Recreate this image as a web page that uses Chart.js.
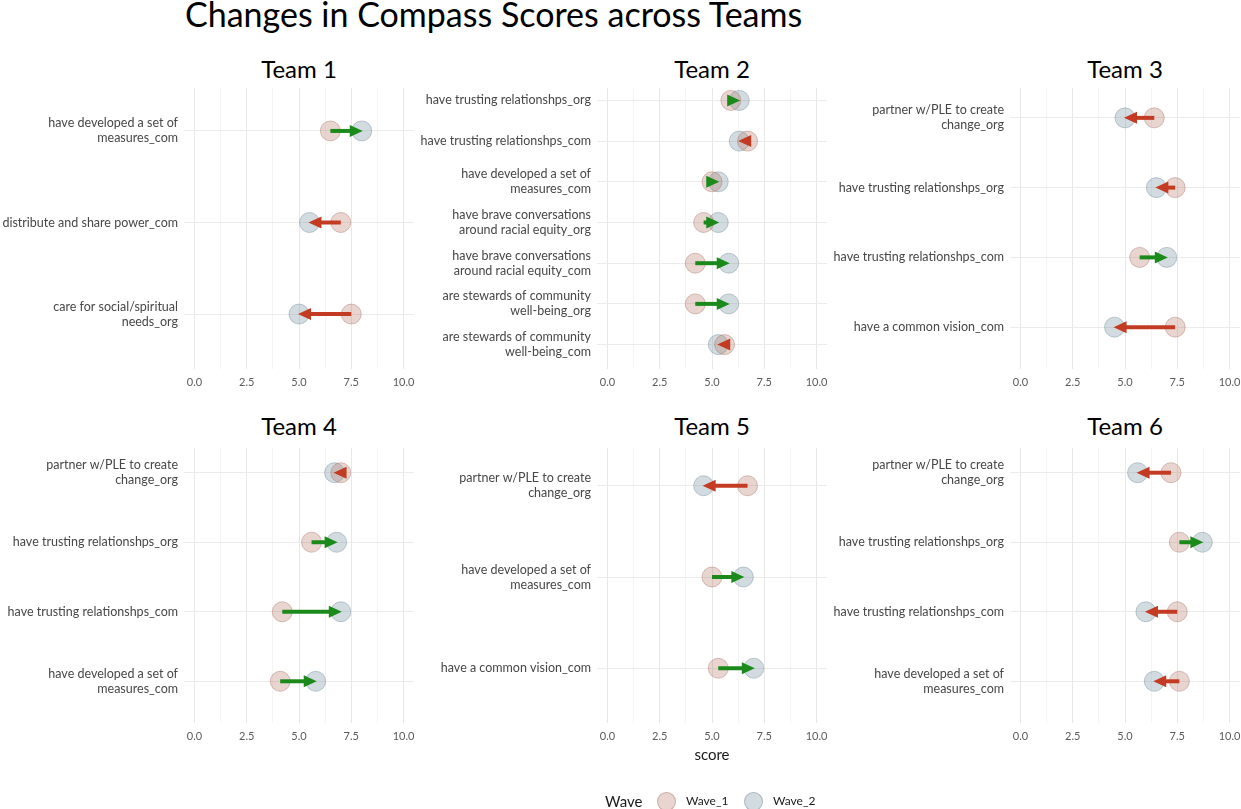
<!DOCTYPE html>
<html>
<head>
<meta charset="utf-8">
<script src="https://cdn.jsdelivr.net/npm/chart.js@4.4.1/dist/chart.umd.min.js"></script>
<style>
body { margin: 0; background: #fff; font-family: Lato, "Open Sans", sans-serif; }
#page { position: relative; width: 1241px; height: 809px; overflow: hidden; background: #fff; }
#page canvas { position: absolute; }
.title { position: absolute; left: 185px; top: -3px; font-size: 34px; line-height: 34px; color: #000; white-space: nowrap; }
.strip { position: absolute; background: #fff; text-align: center; font-size: 24px; line-height: 30px; color: #000; }
.lbl { position: absolute; white-space: nowrap; color: #1a1a1a; }
.dot { position: absolute; width: 19px; height: 19px; border-radius: 50%; box-sizing: border-box; }
</style>
</head>
<body>
<div id="page">
  <div class="title">Changes in Compass Scores across Teams</div>
</div>
<script>
// categories top to bottom, "\n" marks a wrapped label
var team1Items = ['have developed a set of\nmeasures_com', 'distribute and share power_com', 'care for social/spiritual\nneeds_org'];
var team1Wave1 = [6.5, 7.0, 7.5];
var team1Wave2 = [8.0, 5.5, 5.0];

var team2Items = ['have trusting relationshps_org', 'have trusting relationshps_com', 'have developed a set of\nmeasures_com',
  'have brave conversations\naround racial equity_org', 'have brave conversations\naround racial equity_com',
  'are stewards of community\nwell-being_org', 'are stewards of community\nwell-being_com'];
var team2Wave1 = [5.9, 6.7, 5.0, 4.6, 4.2, 4.2, 5.6];
var team2Wave2 = [6.3, 6.3, 5.3, 5.3, 5.8, 5.8, 5.3];

var team3Items = ['partner w/PLE to create\nchange_org', 'have trusting relationshps_org', 'have trusting relationshps_com', 'have a common vision_com'];
var team3Wave1 = [6.4, 7.4, 5.7, 7.4];
var team3Wave2 = [5.0, 6.5, 7.0, 4.5];

var team4Items = ['partner w/PLE to create\nchange_org', 'have trusting relationshps_org', 'have trusting relationshps_com', 'have developed a set of\nmeasures_com'];
var team4Wave1 = [7.0, 5.6, 4.2, 4.1];
var team4Wave2 = [6.7, 6.8, 7.0, 5.8];

var team5Items = ['partner w/PLE to create\nchange_org', 'have developed a set of\nmeasures_com', 'have a common vision_com'];
var team5Wave1 = [6.7, 5.0, 5.3];
var team5Wave2 = [4.6, 6.5, 7.0];

var team6Items = ['partner w/PLE to create\nchange_org', 'have trusting relationshps_org', 'have trusting relationshps_com', 'have developed a set of\nmeasures_com'];
var team6Wave1 = [7.2, 7.6, 7.5, 7.6];
var team6Wave2 = [5.6, 8.7, 6.0, 6.4];

var teamNames = ['Team 1', 'Team 2', 'Team 3', 'Team 4', 'Team 5', 'Team 6'];
var xTicks = [0, 1.25, 2.5, 3.75, 5, 6.25, 7.5, 8.75, 10];
var waveNames = ['Wave_1', 'Wave_2'];

var panels = [
  { items: team1Items, w1: team1Wave1, w2: team1Wave2 },
  { items: team2Items, w1: team2Wave1, w2: team2Wave2 },
  { items: team3Items, w1: team3Wave1, w2: team3Wave2 },
  { items: team4Items, w1: team4Wave1, w2: team4Wave2 },
  { items: team5Items, w1: team5Wave1, w2: team5Wave2 },
  { items: team6Items, w1: team6Wave1, w2: team6Wave2 }
];

var wave1Fill = 'rgba(185,125,110,0.32)', wave1Line = 'rgba(160,100,90,0.38)';
var wave2Fill = 'rgba(130,155,168,0.36)', wave2Line = 'rgba(110,135,150,0.42)';
var upColor = '#1b8a1b', downColor = '#c23b22';

var PANEL_STEP = 413, AXIS_W = 184, PLOT_W = 230, PAD_TOP = 30, PAD_RIGHT = 15, XAXIS_H = 24;
var rowTop = [76, 431], rowPlotH = [293, 292];

// arrow from wave 1 to wave 2 on top of the points
var arrowPlugin = {
  id: 'waveArrows',
  afterDatasetsDraw: function (chart) {
    var ctx = chart.ctx, xs = chart.scales.x, ys = chart.scales.y;
    var d1 = chart.data.datasets[0].data, d2 = chart.data.datasets[1].data;
    ctx.save();
    for (var i = 0; i < d1.length; i++) {
      var x0 = xs.getPixelForValue(d1[i].x), x1 = xs.getPixelForValue(d2[i].x);
      var y = ys.getPixelForValue(d1[i].y);
      var dir = x1 >= x0 ? 1 : -1;
      var col = dir > 0 ? upColor : downColor;
      var headL = 12, headW = 6;
      ctx.strokeStyle = col;
      ctx.fillStyle = col;
      if (Math.abs(x1 - x0) > headL) {
        ctx.beginPath();
        ctx.lineWidth = 4;
        ctx.moveTo(x0, y);
        ctx.lineTo(x1 - dir * headL * 0.8, y);
        ctx.stroke();
      }
      ctx.beginPath();
      ctx.moveTo(x1 + dir, y);
      ctx.lineTo(x1 - dir * headL, y - headW);
      ctx.lineTo(x1 - dir * headL, y + headW);
      ctx.closePath();
      ctx.fill();
    }
    ctx.restore();
  }
};

var page = document.getElementById('page');

panels.forEach(function (p, k) {
  var col = k % 3, row = Math.floor(k / 3);
  var left = PANEL_STEP * col;
  var top = rowTop[row] - PAD_TOP;
  var w = AXIS_W + PLOT_W + PAD_RIGHT;
  var h = PAD_TOP + rowPlotH[row] + XAXIS_H;

  var canvas = document.createElement('canvas');
  canvas.width = w; canvas.height = h;
  canvas.style.left = left + 'px'; canvas.style.top = top + 'px';
  canvas.style.width = w + 'px'; canvas.style.height = h + 'px';
  page.appendChild(canvas);

  var n = p.items.length;
  new Chart(canvas.getContext('2d'), {
    type: 'scatter',
    data: {
      datasets: [
        { label: waveNames[0], data: p.w1.map(function (v, i) { return { x: v, y: i }; }),
          backgroundColor: wave1Fill, borderColor: wave1Line, borderWidth: 1, pointRadius: 10 },
        { label: waveNames[1], data: p.w2.map(function (v, i) { return { x: v, y: i }; }),
          backgroundColor: wave2Fill, borderColor: wave2Line, borderWidth: 1, pointRadius: 10 }
      ]
    },
    options: {
      responsive: false,
      animation: false,
      layout: { padding: { top: PAD_TOP, right: PAD_RIGHT, left: 0, bottom: 0 } },
      plugins: { legend: { display: false }, tooltip: { enabled: false } },
      scales: {
        x: {
          type: 'linear', min: -0.5, max: 10.5,
          afterBuildTicks: function (axis) { axis.ticks = xTicks.map(function (v) { return { value: v }; }); },
          afterFit: function (axis) { axis.height = XAXIS_H; },
          ticks: {
            autoSkip: false, maxRotation: 0, padding: 7, color: '#5a5a5a',
            font: { family: 'Lato', size: 11 },
            callback: function (v) { return v % 2.5 === 0 ? v.toFixed(1) : ''; }
          },
          grid: {
            drawTicks: false,
            color: function (c) { return c.tick && c.tick.value % 2.5 === 0 ? '#e8e8e8' : '#efefef'; },
            lineWidth: function (c) { return c.tick && c.tick.value % 2.5 === 0 ? 1 : 0.7; }
          },
          border: { display: false }
        },
        y: {
          type: 'linear', reverse: true, min: -0.6, max: n - 0.4,
          afterBuildTicks: function (axis) { axis.ticks = p.items.map(function (c, i) { return { value: i }; }); },
          afterFit: function (axis) { axis.width = AXIS_W; },
          ticks: {
            autoSkip: false, padding: 6, color: '#474747',
            font: { family: 'Lato', size: 12.5 },
            callback: function (v) { return p.items[v] ? p.items[v].split('\n') : ''; }
          },
          grid: { drawTicks: false, color: '#ebebeb', lineWidth: 1 },
          border: { display: false }
        }
      }
    },
    plugins: [arrowPlugin]
  });

  // facet strip title, white box covers the top of the grid like the original
  var strip = document.createElement('div');
  strip.className = 'strip';
  strip.textContent = teamNames[k];
  var plotLeft = left + AXIS_W;
  strip.style.left = plotLeft + 'px';
  strip.style.width = PLOT_W + 'px';
  strip.style.top = (row === 0 ? 54 : 411) + 'px';
  strip.style.height = (row === 0 ? 34 : 37) + 'px';
  page.appendChild(strip);
});

function addLabel(text, x, y, size, center) {
  var d = document.createElement('div');
  d.className = 'lbl';
  d.textContent = text;
  d.style.fontSize = size + 'px';
  d.style.lineHeight = size + 'px';
  d.style.top = (y - size / 2) + 'px';
  if (center) { d.style.left = (x - 100) + 'px'; d.style.width = '200px'; d.style.textAlign = 'center'; }
  else d.style.left = x + 'px';
  page.appendChild(d);
}
function addDot(cx, cy, fill, line) {
  var d = document.createElement('div');
  d.className = 'dot';
  d.style.left = (cx - 9.5) + 'px'; d.style.top = (cy - 9.5) + 'px';
  d.style.background = fill; d.style.border = '1px solid ' + line;
  page.appendChild(d);
}

addLabel('score', 712, 754, 15, true);
addLabel('Wave', 605, 801, 15, false);
addDot(666, 801, wave1Fill, wave1Line);
addLabel(waveNames[0], 686, 801, 12, false);
addDot(753, 801, wave2Fill, wave2Line);
addLabel(waveNames[1], 773, 801, 12, false);
</script>
</body>
</html>
